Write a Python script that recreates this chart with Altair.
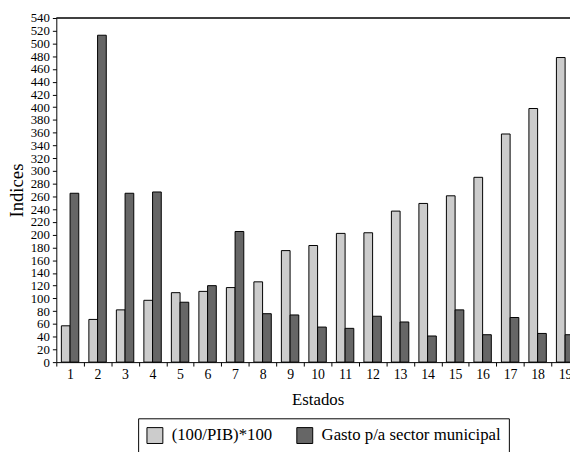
import altair as alt
import pandas as pd

estados = [str(i) for i in range(1, 20)]
series = ["(100/PIB)*100", "Gasto p/a sector municipal"]
pib = [57, 67, 82, 97, 109, 111, 117, 126, 175, 183, 202, 203, 237, 249, 261, 290, 358, 398, 478]
gasto = [265, 513, 265, 267, 94, 120, 205, 76, 74, 55, 53, 72, 63, 41, 82, 43, 70, 45, 43]
y_ticks = list(range(0, 541, 20))

rows = []
for e, a, b in zip(estados, pib, gasto):
    rows.append({"estado": e, "serie": series[0], "valor": a})
    rows.append({"estado": e, "serie": series[1], "valor": b})
df = pd.DataFrame(rows)

FONT = "Liberation Serif, Times New Roman, Times, serif"


def y_axis():
    return alt.Axis(
        title="Indices", values=y_ticks, tickSize=4, labelPadding=3,
        labelFontSize=13, titleFontSize=19, titlePadding=4, grid=False,
        labelOverlap=False, labelFlush=False,
    )


y_scale = alt.Scale(domain=[0, 540], nice=False)

bars = alt.Chart(df).mark_bar(stroke="black", strokeWidth=1).encode(
    x=alt.X(
        "estado:N",
        sort=estados,
        scale=alt.Scale(range=[0, 530], paddingInner=0, paddingOuter=0),
        axis=alt.Axis(
            title="Estados", labelAngle=0, tickBand="extent", tickSize=4,
            labelPadding=2, labelFontSize=14, titleFontSize=17, titlePadding=10,
            labelOverlap=False, labelBound=False,
        ),
    ),
    xOffset=alt.XOffset(
        "serie:N", sort=series,
        scale=alt.Scale(paddingInner=0, paddingOuter=0.58),
    ),
    y=alt.Y("valor:Q", scale=y_scale, axis=y_axis()),
    color=alt.Color(
        "serie:N",
        sort=series,
        scale=alt.Scale(domain=series, range=["#cccccc", "#666666"]),
        legend=alt.Legend(
            title=None, orient="none", legendX=83, legendY=406,
            direction="horizontal", columns=2, strokeColor="black",
            fillColor="white", padding=8, symbolType="square", symbolSize=260,
            symbolStrokeColor="black", symbolStrokeWidth=1, labelFontSize=17,
            labelOffset=8, columnPadding=22, cornerRadius=0, labelLimit=400,
        ),
    ),
)

top = alt.Chart(pd.DataFrame({"valor": [540]})).mark_rule(color="black", strokeWidth=1.5).encode(
    y=alt.Y("valor:Q", scale=y_scale, axis=y_axis())
)

chart = alt.layer(bars, top).properties(
    width=521, height=349,
    autosize=alt.AutoSizeParams(type="none"),
    padding={"left": 49, "top": 7, "right": 0, "bottom": 88},
).configure(font=FONT).configure_view(stroke=None).configure_axis(
    domainColor="black", tickColor="black", labelColor="black", titleColor="black",
    labelFont=FONT, titleFont=FONT, titleFontWeight="normal",
).configure_legend(labelFont=FONT, labelColor="black")

chart.save("out.html", embed_options={"renderer": "svg", "actions": False})
